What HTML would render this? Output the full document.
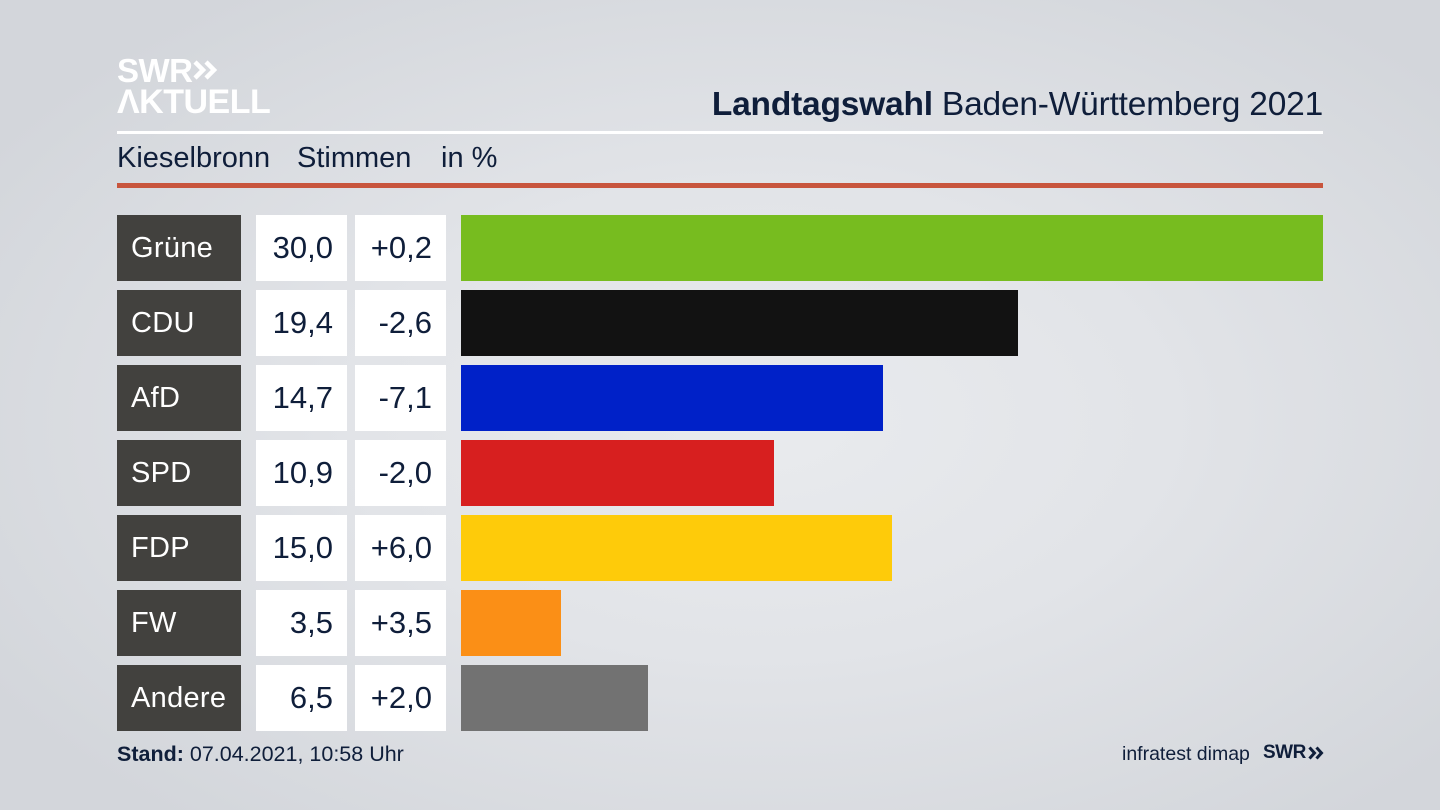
<!DOCTYPE html>
<html><head><meta charset="utf-8">
<style>
*{margin:0;padding:0;box-sizing:border-box}
html,body{width:1440px;height:810px;overflow:hidden}
body{position:relative;font-family:"Liberation Sans",sans-serif;
background:radial-gradient(ellipse 900px 520px at 760px 420px,#e9ebee 0%,#e2e4e8 45%,#d3d6db 100%);}
.abs{position:absolute}
.logo{color:#fff;font-weight:bold;font-size:33px;line-height:1;letter-spacing:-0.5px}
.title{right:117px;top:86px;font-size:33.5px;color:#0f1e3a;white-space:nowrap;letter-spacing:-0.2px}
.sub{top:142px;font-size:29px;color:#0f1e3a;white-space:nowrap}
.row{position:absolute;left:0;width:1440px;height:66px}
.lab{position:absolute;left:117px;width:124px;height:66px;background:#42413e;color:#fff;font-size:29px;line-height:66px;padding-left:14px;letter-spacing:0.3px}
.val{position:absolute;left:256px;width:91px;height:66px;background:#fff;color:#0f1e3a;font-size:31px;line-height:66px;text-align:right;padding-right:14px}
.dif{position:absolute;left:355px;width:91px;height:66px;background:#fff;color:#0f1e3a;font-size:31px;line-height:66px;text-align:right;padding-right:14px}
.bar{position:absolute;left:461px;height:66px}
.foot{font-size:21.5px;color:#0f1e3a;white-space:nowrap}
</style></head><body>
<div class="abs logo" style="left:117px;top:54px">SWR</div>
<svg class="abs" style="left:193px;top:60px" width="28" height="20" viewBox="0 0 28 20"><path d="M2 2 L10 10 L2 18 M13 2 L21 10 L13 18" stroke="#fff" stroke-width="4.5" fill="none"/></svg>
<div class="abs logo" style="left:117px;top:85px;font-size:34px">ΛKTUELL</div>
<div class="abs title"><b>Landtagswahl</b> Baden-Württemberg 2021</div>
<div class="abs" style="left:117px;top:131px;width:1206px;height:3px;background:#fff"></div>
<div class="abs sub" style="left:117px">Kieselbronn</div>
<div class="abs sub" style="left:297px">Stimmen</div>
<div class="abs sub" style="left:441px">in %</div>
<div class="abs" style="left:117px;top:183px;width:1206px;height:5px;background:#c8553d"></div>

<div class="row" style="top:215px"><div class="lab">Grüne</div><div class="val">30,0</div><div class="dif">+0,2</div><div class="bar" style="width:862px;background:#77bc1f"></div></div>
<div class="row" style="top:290px"><div class="lab">CDU</div><div class="val">19,4</div><div class="dif">-2,6</div><div class="bar" style="width:557px;background:#121212"></div></div>
<div class="row" style="top:365px"><div class="lab">AfD</div><div class="val">14,7</div><div class="dif">-7,1</div><div class="bar" style="width:422px;background:#0021c8"></div></div>
<div class="row" style="top:440px"><div class="lab">SPD</div><div class="val">10,9</div><div class="dif">-2,0</div><div class="bar" style="width:313px;background:#d71f1f"></div></div>
<div class="row" style="top:515px"><div class="lab">FDP</div><div class="val">15,0</div><div class="dif">+6,0</div><div class="bar" style="width:431px;background:#fecb0a"></div></div>
<div class="row" style="top:590px"><div class="lab">FW</div><div class="val">3,5</div><div class="dif">+3,5</div><div class="bar" style="width:100px;background:#fb8f16"></div></div>
<div class="row" style="top:665px"><div class="lab">Andere</div><div class="val">6,5</div><div class="dif">+2,0</div><div class="bar" style="width:187px;background:#727272"></div></div>

<div class="abs foot" style="left:117px;top:742px"><b>Stand:</b> 07.04.2021, 10:58 Uhr</div>
<div class="abs foot" style="left:1122px;top:743px;font-size:19.5px">infratest dimap</div>
<div class="abs foot" style="left:1263px;top:742px;font-size:19px;font-weight:bold;letter-spacing:-0.5px">SWR</div>
<svg class="abs" style="left:1308px;top:746px" width="16" height="14" viewBox="0 0 16 14"><path d="M1.5 1.5 L6.5 7 L1.5 12.5 M8.5 1.5 L13.5 7 L8.5 12.5" stroke="#0f1e3a" stroke-width="3" fill="none"/></svg>
</body></html>
